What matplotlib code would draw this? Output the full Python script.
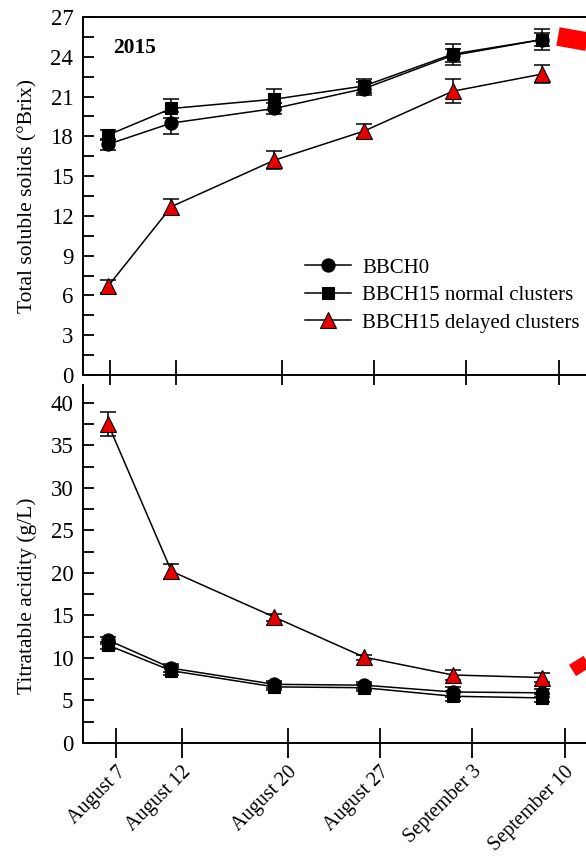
import numpy as np
import matplotlib
matplotlib.use('Agg')
import matplotlib.pyplot as plt
from matplotlib.lines import Line2D
from matplotlib.ticker import MultipleLocator

plt.rcParams['font.family'] = ['Liberation Serif', 'DejaVu Serif']

# sampling days (days after August 7) and tick dates
days = [-0.6, 4.2, 12.0, 18.8, 25.5, 32.3]
tick_days = np.array([0, 5, 13, 20, 27, 34])
tick_labels = ['August 7', 'August 12', 'August 20', 'August 27',
               'September 3', 'September 10']
series = ['BBCH0', 'BBCH15 normal clusters', 'BBCH15 delayed clusters']

# total soluble solids (°Brix)
tss_bbch0 = [17.4, 19.0, 20.1, 21.6, 24.1, 25.3]
tss_bbch0_err = [0.4, 0.8, 0.4, 0.5, 0.5, 0.5]
tss_normal = [18.1, 20.1, 20.8, 21.8, 24.2, 25.3]
tss_normal_err = [0.4, 0.7, 0.8, 0.5, 0.8, 0.8]
tss_delayed = [6.7, 12.7, 16.2, 18.4, 21.4, 22.7]
tss_delayed_err = [0.5, 0.6, 0.7, 0.5, 0.9, 0.7]

# titratable acidity (g/L)
ta_bbch0 = [12.1, 8.8, 6.9, 6.8, 6.0, 5.9]
ta_bbch0_err = [0.4, 0.5, 0.4, 0.4, 0.6, 0.5]
ta_normal = [11.5, 8.5, 6.6, 6.5, 5.5, 5.3]
ta_normal_err = [0.4, 0.5, 0.4, 0.4, 0.6, 0.5]
ta_delayed = [37.5, 20.2, 14.8, 10.1, 8.0, 7.7]
ta_delayed_err = [1.4, 0.9, 0.4, 0.3, 0.6, 0.5]

W, H = 586, 856
fig = plt.figure(figsize=(W / 100, H / 100), dpi=100)

ax_w = (650 - 83) / W
ax1 = fig.add_axes([83 / W, 1 - 375 / H, ax_w, 358 / H])
ax2 = fig.add_axes([83 / W, 1 - 743 / H, ax_w, 358 / H])

styles = [('o', 'black', 9.5), ('s', 'black', 8.5), ('^', '#e60000', 12)]


def draw(ax, vals, errs):
    handles = []
    for (m, c, ms), v, e, lab in zip(styles, vals, errs, series):
        ax.errorbar(days, v, yerr=e, fmt='none', ecolor='black',
                    elinewidth=1.1, capsize=6, capthick=1.1, zorder=2)
        h, = ax.plot(days, v, marker=m, color='black', markerfacecolor=c,
                     markeredgecolor='black', markeredgewidth=0.8, ms=ms,
                     lw=1.1, label=lab, zorder=3)
        handles.append(h)
    return handles


handles = draw(ax1, [tss_bbch0, tss_normal, tss_delayed],
               [tss_bbch0_err, tss_normal_err, tss_delayed_err])
draw(ax2, [ta_bbch0, ta_normal, ta_delayed],
     [ta_bbch0_err, ta_normal_err, ta_delayed_err])

xlim = (-2.5, -2.5 + 567 / 13.2)
for ax in (ax1, ax2):
    ax.set_xlim(*xlim)
    for s in ax.spines.values():
        s.set_linewidth(1.4)
    ax.spines['right'].set_visible(False)
    ax.tick_params(axis='y', which='both', direction='in', length=8,
                   width=1.3, labelsize=16.5, pad=7)
    ax.tick_params(axis='x', direction='inout', length=22, width=1.3)

ax1.set_ylim(0, 27)
ax1.yaxis.set_major_locator(MultipleLocator(3))
ax1.yaxis.set_minor_locator(MultipleLocator(1.5))
ax1.set_xticks(tick_days - 0.45)
ax1.set_xticklabels([])
ax1.set_ylabel('Total soluble solids (°Brix)', fontsize=15.5)
ax1.yaxis.set_label_coords(-46 / 567, 0.5)

ax2.set_ylim(0, 42.1)
ax2.spines['top'].set_visible(False)
ax2.yaxis.set_major_locator(MultipleLocator(5))
ax2.yaxis.set_minor_locator(MultipleLocator(2.5))
ax2.set_xticks(tick_days)
ax2.set_xticklabels(tick_labels, rotation=45, ha='right', va='top',
                    rotation_mode='anchor', fontsize=14.5)
ax2.tick_params(axis='x', pad=3)
ax2.set_ylabel('Titratable acidity (g/L)', fontsize=15.5)
ax2.yaxis.set_label_coords(-46 / 567, 0.41)

fig.text(113 / W, 1 - 48 / H, '2015', fontsize=15.5, fontweight='bold',
         va='center', ha='left')

ax1.legend(handles=handles, loc='upper left',
           bbox_to_anchor=(305 / W, 1 - 258 / H),
           bbox_transform=fig.transFigure, frameon=False, fontsize=15,
           handlelength=2.2, handletextpad=0.55, labelspacing=0.38,
           borderpad=0, borderaxespad=0)

# red marks from the surrounding figure
def px(x, y):
    return x / W, 1 - y / H


(x0, y0), (x1, y1) = px(558, 36.5), px(620, 47.5)
fig.add_artist(Line2D([x0, x1], [y0, y1], transform=fig.transFigure,
                      color='red', lw=13.5, solid_capstyle='butt'))
(x0, y0), (x1, y1) = px(572.5, 670.5), px(620, 640.7)
fig.add_artist(Line2D([x0, x1], [y0, y1], transform=fig.transFigure,
                      color='red', lw=9.5, solid_capstyle='butt'))

fig.savefig('out.png', dpi=100)
